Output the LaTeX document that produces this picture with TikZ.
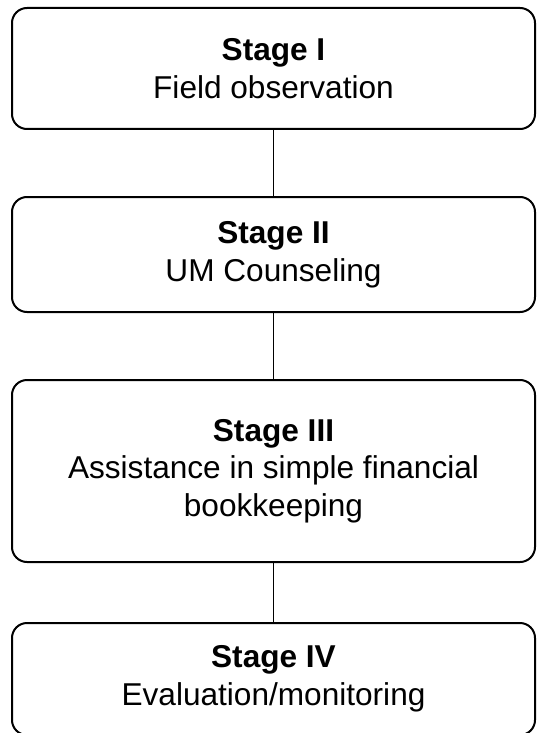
\documentclass[tikz,border=0pt]{standalone}
\usepackage{fontspec}
\setmainfont{Liberation Sans}
\usetikzlibrary{positioning}

\begin{document}
\begin{tikzpicture}[node distance=34pt]
    % Styles
    \tikzstyle{stagebox} = [rectangle, rounded corners=7.5pt, draw=black, line width=1pt,
                           minimum width=261.5pt, text centered, align=center,
                           fill=white, font=\fontsize{15.8}{18.8}\selectfont]
    \tikzstyle{link} = [line width=0.9pt]

    \useasboundingbox (0,0) rectangle (268.5pt,-366.5pt);

    % Nodes
    \node (stage1) [stagebox, minimum height=60.5pt] at (136.75pt,-34.25pt)
        {\textbf{Stage I}\\Field observation};
    \node (stage2) [stagebox, minimum height=57.5pt, below=33pt of stage1]
        {\textbf{Stage II}\\UM Counseling};
    \node (stage3) [stagebox, minimum height=91pt, below=33pt of stage2]
        {\textbf{Stage III}\\Assistance in simple financial\\bookkeeping};
    \node (stage4) [stagebox, minimum height=56pt, below=29.5pt of stage3]
        {\textbf{Stage IV}\\Evaluation/monitoring};

    % Lines
    \draw [link] (stage1) -- (stage2);
    \draw [link] (stage2) -- (stage3);
    \draw [link] (stage3) -- (stage4);

\end{tikzpicture}
\end{document}
